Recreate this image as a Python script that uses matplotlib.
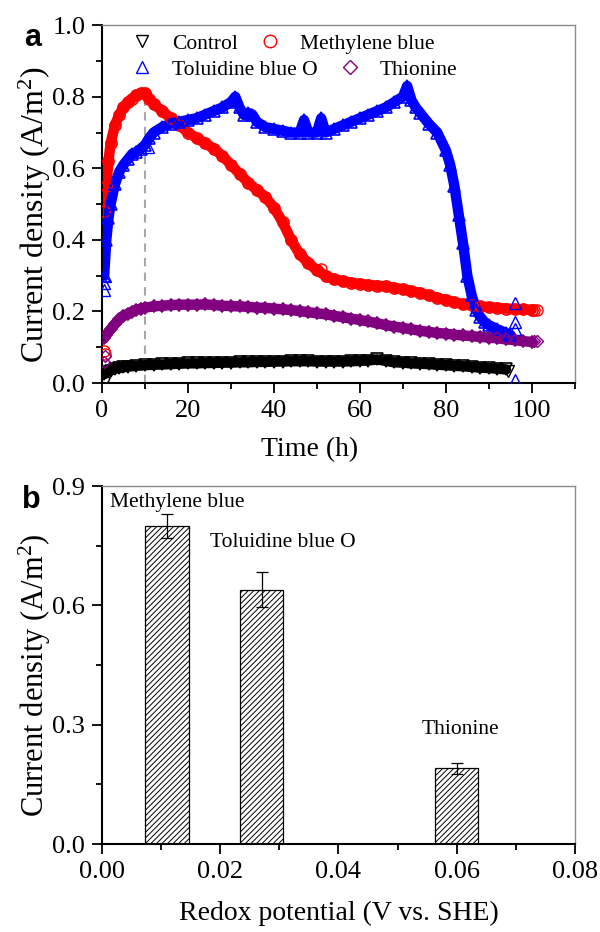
import matplotlib
matplotlib.use("Agg")
import matplotlib.pyplot as plt
from matplotlib.lines import Line2D
from matplotlib.ticker import MultipleLocator

plt.rcParams['font.family'] = ['Liberation Serif', 'DejaVu Serif']
plt.rcParams['mathtext.fontset'] = 'custom'
plt.rcParams['mathtext.rm'] = 'Liberation Serif'
plt.rcParams['mathtext.it'] = 'Liberation Serif:italic'
plt.rcParams['hatch.linewidth'] = 0.7

# ---- panel a: current density vs time ----
mb_t = [0.5, 1, 1.5, 2, 3, 4, 5, 6, 7, 8, 9, 10, 11, 12,
        14, 16, 18, 20, 22, 24, 26, 28, 30, 32, 34, 36, 38, 40, 42, 44, 46, 48, 50,
        52, 54, 56, 58, 60, 62, 64, 66, 68, 70, 72, 74, 76, 78, 80, 82, 84, 86, 88,
        90, 92, 94, 96, 98, 100]
mb_v = [0.48, 0.55, 0.62, 0.67, 0.72, 0.75, 0.77, 0.785, 0.795, 0.805, 0.81, 0.81, 0.795, 0.78,
        0.76, 0.74, 0.72, 0.70, 0.685, 0.67, 0.655, 0.635, 0.61, 0.585, 0.56, 0.54, 0.52, 0.49,
        0.45, 0.40, 0.36, 0.335, 0.315, 0.30, 0.29, 0.285, 0.28, 0.277, 0.274, 0.272, 0.27,
        0.266, 0.262, 0.257, 0.252, 0.245, 0.238, 0.232, 0.226, 0.22, 0.217, 0.214, 0.212,
        0.21, 0.208, 0.207, 0.206, 0.205]
mb_extra_t = [0.5, 0.6, 51, 100.4, 101.2]
mb_extra_v = [0.09, 0.08, 0.32, 0.205, 0.205]

tbo_t = [0.5, 1, 1.5, 2, 3, 4, 5, 6, 7, 8, 9, 10, 11, 12,
         14, 16, 18, 20, 22, 24, 26, 28, 30, 31, 32, 33, 34, 35, 36,
         38, 40, 42, 44, 46, 47, 48, 50, 51, 52, 54, 56, 58, 60, 62, 64, 66, 68, 70,
         71, 72, 73, 74, 76, 78, 80, 81, 82, 83, 84, 85, 86, 87, 88, 89, 90, 92, 94, 95]
tbo_v = [0.30, 0.40, 0.46, 0.50, 0.555, 0.59, 0.61, 0.625, 0.64, 0.645, 0.655, 0.665, 0.685, 0.70,
         0.715, 0.725, 0.73, 0.735, 0.74, 0.75, 0.76, 0.77, 0.785, 0.80, 0.77, 0.75, 0.755, 0.75, 0.73,
         0.715, 0.71, 0.705, 0.70, 0.70, 0.735, 0.70, 0.70, 0.74, 0.70, 0.71, 0.72, 0.73, 0.74,
         0.75, 0.76, 0.77, 0.785, 0.80,
         0.83, 0.79, 0.77, 0.755, 0.725, 0.70, 0.65, 0.61, 0.55, 0.47, 0.39, 0.30, 0.245, 0.205,
         0.185, 0.17, 0.162, 0.15, 0.14, 0.135]
tbo_extra_t = [0.4, 0.5, 0.6, 10.8, 96, 96, 96, 96]
tbo_extra_v = [0.26, 0.28, 0.30, 0.66, 0.225, 0.17, 0.15, 0.008]

thi_t = [0.5, 1, 2, 3, 4, 5, 6, 7, 8, 9, 10,
         12, 14, 16, 18, 20, 22, 24, 26, 28, 30, 32, 34, 36, 38, 40, 42, 44, 46, 48, 50,
         52, 54, 56, 58, 60, 62, 64, 66, 68, 70, 72, 74, 76, 78, 80, 82, 84, 86, 88, 90,
         92, 94, 96, 98, 100]
thi_v = [0.125, 0.135, 0.15, 0.165, 0.178, 0.187, 0.194, 0.199, 0.204, 0.208, 0.211,
         0.214, 0.216, 0.218, 0.219, 0.219, 0.219, 0.22, 0.218, 0.216, 0.215, 0.214, 0.213,
         0.211, 0.21, 0.208, 0.206, 0.204, 0.201, 0.198, 0.195, 0.192, 0.188, 0.184, 0.18,
         0.176, 0.172, 0.167, 0.162, 0.158, 0.154, 0.15, 0.146, 0.143, 0.14, 0.138, 0.135,
         0.133, 0.131, 0.129, 0.127, 0.125, 0.122, 0.12, 0.117, 0.115]
thi_extra_t = [0.5, 0.6, 100.4, 101.3]
thi_extra_v = [0.06, 0.075, 0.118, 0.118]

ctl_t = [0.5, 1, 2, 3, 4, 5, 6, 8, 10, 12, 14, 16, 18, 20, 22, 24, 26, 28, 30, 32, 34,
         36, 38, 40, 42, 44, 46, 48, 50, 52, 54, 56, 58, 60, 62, 64, 66, 68, 70, 72, 74,
         76, 78, 80, 82, 84, 86, 88, 90, 92, 94]
ctl_v = [0.025, 0.03, 0.035, 0.04, 0.042, 0.044, 0.046, 0.048, 0.05, 0.051, 0.052, 0.053,
         0.054, 0.055, 0.055, 0.056, 0.056, 0.057, 0.057, 0.058, 0.058, 0.059, 0.059, 0.06,
         0.06, 0.061, 0.061, 0.061, 0.06, 0.06, 0.06, 0.06, 0.061, 0.062, 0.063, 0.066,
         0.062, 0.058, 0.057, 0.055, 0.054, 0.053, 0.051, 0.05, 0.048, 0.047, 0.045, 0.043,
         0.042, 0.04, 0.038]
ctl_extra_t = [0.5, 94.5]
ctl_extra_v = [0.0, 0.035]

# ---- panel b: bars ----
dye_names = ["Methylene blue", "Toluidine blue O", "Thionine"]
redox = [0.011, 0.027, 0.060]
peak_j = [0.80, 0.64, 0.19]
peak_err = [0.03, 0.044, 0.013]

series = [
    ("Control", ctl_t, ctl_v, ctl_extra_t, ctl_extra_v, "black", "v"),
    ("Methylene blue", mb_t, mb_v, mb_extra_t, mb_extra_v, "#ff0000", "o"),
    ("Toluidine blue O", tbo_t, tbo_v, tbo_extra_t, tbo_extra_v, "#0000ff", "^"),
    ("Thionine", thi_t, thi_v, thi_extra_t, thi_extra_v, "#800080", "D"),
]

fig = plt.figure(figsize=(6, 9.32), dpi=100)
ax1 = fig.add_axes([0.17, 0.589, 0.788, 0.384])
ax2 = fig.add_axes([0.17, 0.0944, 0.788, 0.384])

ax1.vlines(10, 0, 0.81, colors="#a8a8a8", linestyles=(0, (4, 3)), lw=1.5, zorder=1)

handles = {}
for name, t, v, et, ev, col, mk in series:
    ms = 6.5 if mk == "D" else 8
    ax1.plot(t, v, color=col, lw=7.5, solid_capstyle="round", zorder=2)
    ax1.plot(t, v, ls="none", marker=mk, ms=ms, mfc="none", mec=col, mew=1.2, zorder=3)
    ax1.plot(et, ev, ls="none", marker=mk, ms=ms, mfc="none", mec=col, mew=1.0, zorder=3)
    handles[name] = Line2D([], [], ls="none", marker=mk, ms=ms + 1, mfc="none", mec=col, mew=1.0)

ax1.set_xlim(0, 110)
ax1.set_ylim(0, 1.0)
ax1.xaxis.set_major_locator(MultipleLocator(20))
ax1.xaxis.set_minor_locator(MultipleLocator(10))
ax1.yaxis.set_major_locator(MultipleLocator(0.2))
ax1.yaxis.set_minor_locator(MultipleLocator(0.1))
ax1.set_yticklabels([f"{y:.1f}" for y in ax1.get_yticks()])
ax1.set_xlabel("Time (h)", fontsize=20)
ax1.set_ylabel("Current density (A/m$^2$)", fontsize=23)

leg_kw = dict(ncol=2, loc="upper left", frameon=False, fontsize=15.5, handlelength=1.0,
              handletextpad=0.9, columnspacing=1.0, borderpad=0, borderaxespad=0)
leg1 = ax1.legend([handles["Control"], handles["Methylene blue"]], ["Control", "Methylene blue"],
                  bbox_to_anchor=(0.061, 0.976), **leg_kw)
ax1.add_artist(leg1)
ax1.legend([handles["Toluidine blue O"], handles["Thionine"]], ["Toluidine blue O", "Thionine"],
           bbox_to_anchor=(0.061, 0.904), **leg_kw)

ax2.bar(redox, peak_j, width=0.0074, yerr=peak_err, color="white", edgecolor="black",
        hatch="//////", lw=0.9, zorder=2,
        error_kw=dict(capsize=4, elinewidth=0.9, capthick=0.9, ecolor="black"))
label_pos = [(0.0013, 0.86), (0.0182, 0.757), (0.054, 0.289)]
for name, (lx, ly) in zip(dye_names, label_pos):
    ax2.text(lx, ly, name, fontsize=15.5, ha="left", va="center")

ax2.set_xlim(0, 0.08)
ax2.set_ylim(0, 0.9)
ax2.xaxis.set_major_locator(MultipleLocator(0.02))
ax2.xaxis.set_minor_locator(MultipleLocator(0.01))
ax2.yaxis.set_major_locator(MultipleLocator(0.3))
ax2.yaxis.set_minor_locator(MultipleLocator(0.15))
ax2.set_xticklabels([f"{x:.2f}" for x in ax2.get_xticks()])
ax2.set_yticklabels([f"{y:.1f}" for y in ax2.get_yticks()])
ax2.set_xlabel("Redox potential (V vs. SHE)", fontsize=20)
ax2.set_ylabel("Current density (A/m$^2$)", fontsize=22)

for ax in (ax1, ax2):
    ax.tick_params(which="both", direction="out", top=False, right=False, labelsize=19, width=1.3)
    ax.tick_params(which="major", length=7, pad=5)
    ax.tick_params(which="minor", length=4)
    ax.spines["left"].set_linewidth(1.5)
    ax.spines["bottom"].set_linewidth(1.5)
    for s in ("top", "right"):
        ax.spines[s].set_color("#8c8c8c")
        ax.spines[s].set_linewidth(1.0)
    ax.yaxis.set_label_coords(-0.103, 0.47)
ax1.xaxis.set_label_coords(0.438, -0.15)
ax2.xaxis.set_label_coords(0.5, -0.16)

fig.text(0.055, 0.959, "a", fontsize=22, fontweight="bold", family="Liberation Sans",
         ha="center", va="center")
fig.text(0.053, 0.4635, "b", fontsize=22, fontweight="bold", family="Liberation Sans",
         ha="center", va="center")

fig.savefig("out.png", dpi=100)
